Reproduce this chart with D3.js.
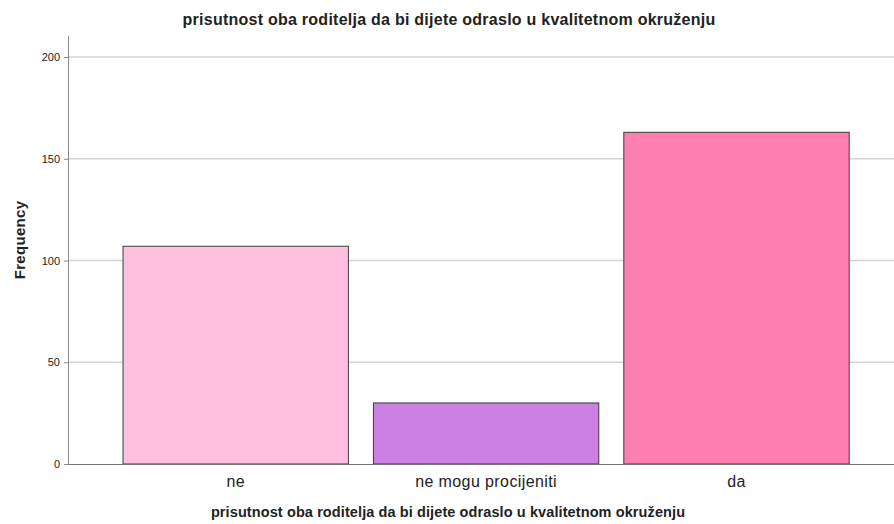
<!DOCTYPE html>
<html>
<head>
<meta charset="utf-8">
<script src="https://cdn.jsdelivr.net/npm/d3@7"></script>
<style>
  body { margin: 0; background: #fff; }
  text { font-family: Arial, "Liberation Sans", sans-serif; }
</style>
</head>
<body>
<svg id="chart" width="894" height="524"></svg>
<script>
const categories = ['ne', 'ne mogu procijeniti', 'da'];
const frequencies = [107, 30, 163];
const barColors = ['#ffc0e0', '#cc80e4', '#ff80b0'];
const yTicks = [0, 50, 100, 150, 200];
const titleText = 'prisutnost oba roditelja da bi dijete odraslo u kvalitetnom okruženju';

const width = 894, height = 524;
const plotLeft = 69, plotRight = 894, plotTop = 36, plotBottom = 464;

const svg = d3.select('#chart');

const x = d3.scaleBand()
  .domain(categories)
  .range([110.5, 861.7])
  .paddingInner(0.1)
  .paddingOuter(0.05);

const y = d3.scaleLinear()
  .domain([0, 200])
  .range([plotBottom, 57]);

// gridlines
svg.append('g')
  .selectAll('line')
  .data(yTicks.filter(d => d > 0))
  .enter()
  .append('line')
  .attr('x1', plotLeft)
  .attr('x2', plotRight)
  .attr('y1', d => y(d))
  .attr('y2', d => y(d))
  .attr('stroke', '#d4d4d4')
  .attr('stroke-width', 1.5);

// bars
svg.append('g')
  .selectAll('rect')
  .data(categories)
  .enter()
  .append('rect')
  .attr('x', d => x(d))
  .attr('y', (d, i) => y(frequencies[i]))
  .attr('width', x.bandwidth())
  .attr('height', (d, i) => plotBottom - y(frequencies[i]))
  .attr('fill', (d, i) => barColors[i])
  .attr('stroke', '#3a3a3a')
  .attr('stroke-width', 1);

// y axis
const yAxis = svg.append('g')
  .attr('transform', `translate(${plotLeft},0)`)
  .call(d3.axisLeft(y).tickValues(yTicks).tickSize(5).tickPadding(4));
yAxis.select('.domain').attr('stroke', '#888').attr('d', `M-0.5,${plotTop}V${plotBottom}`);
yAxis.selectAll('.tick line').attr('stroke', '#888');
yAxis.selectAll('.tick text')
  .attr('font-size', 11)
  .attr('fill', '#222')
  .attr('font-family', 'Arial, "Liberation Sans", sans-serif');

// x axis
const xAxis = svg.append('g')
  .attr('transform', `translate(0,${plotBottom})`)
  .call(d3.axisBottom(x).tickSize(0).tickPadding(12));
xAxis.select('.domain').attr('stroke', '#777').attr('d', `M${plotLeft},0.5H${plotRight}`);
xAxis.selectAll('.tick text')
  .attr('font-size', 16)
  .attr('letter-spacing', 0.4)
  .attr('fill', '#222')
  .attr('font-family', 'Arial, "Liberation Sans", sans-serif');

// title
svg.append('text')
  .attr('x', 449)
  .attr('y', 25)
  .attr('text-anchor', 'middle')
  .attr('font-size', 16)
  .attr('letter-spacing', 0.25)
  .attr('font-weight', 'bold')
  .attr('fill', '#222')
  .text(titleText);

// x axis title
svg.append('text')
  .attr('x', 448)
  .attr('y', 517)
  .attr('text-anchor', 'middle')
  .attr('font-size', 14.5)
  .attr('letter-spacing', 0.1)
  .attr('font-weight', 'bold')
  .attr('fill', '#222')
  .text(titleText);

// y axis title
svg.append('text')
  .attr('transform', 'translate(25,240) rotate(-90)')
  .attr('text-anchor', 'middle')
  .attr('font-size', 15)
  .attr('letter-spacing', 0.3)
  .attr('font-weight', 'bold')
  .attr('fill', '#222')
  .text('Frequency');
</script>
</body>
</html>
